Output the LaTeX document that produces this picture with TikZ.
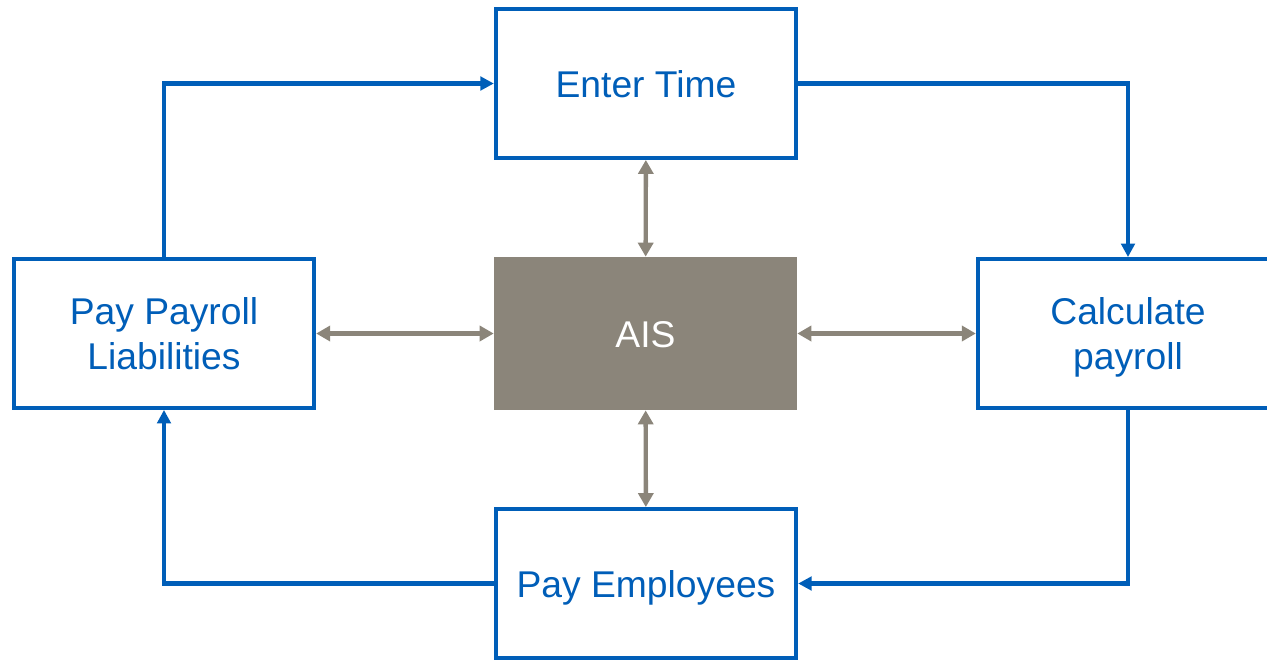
\documentclass[tikz,border=0pt]{standalone}
\usepackage{fontspec}
\setmainfont{Liberation Sans}
\usetikzlibrary{arrows.meta}
\definecolor{payblue}{RGB}{0,94,184}
\definecolor{aisgray}{RGB}{139,133,122}
\tikzset{
	stepbox/.style={draw=payblue, line width=2.5pt, fill=white, text=payblue,
		minimum width=6cm, minimum height=2.97cm, align=center,
		text height=0.54cm, text depth=0pt,
		font=\fontsize{21.2}{25.6}\selectfont},
	twolines/.style={text height=1.44cm},
	aisbox/.style={fill=aisgray, text=white, minimum width=6.06cm, minimum height=3.06cm,
		text height=0.54cm, text depth=0pt,
		font=\fontsize{21.2}{25.6}\selectfont},
	flow/.style={draw=payblue, line width=2.5pt, -{Triangle[length=0.27cm,width=0.27cm]}},
	link/.style={draw=aisgray, line width=2.5pt, {Triangle[length=0.28cm,width=0.3cm]}-{Triangle[length=0.28cm,width=0.3cm]}}
}
\begin{document}
\begin{tikzpicture}[x=0.02cm, y=-0.02cm]
	\useasboundingbox (0,0) rectangle (1267,660);
	\clip (0,0) rectangle (1267,660);
	
	% Kaesten
	\node[aisbox] (ais) at (645.5,333.5) {AIS};
	\node[stepbox] (time) at (646,83.5) {Enter Time};
	\node[stepbox, twolines] (calc) at (1128,333.5) {Calculate\\payroll};
	\node[stepbox] (pay) at (646,583.5) {Pay Employees};
	\node[stepbox, twolines] (liab) at (164,333.5) {Pay Payroll\\Liabilities};
	
	% Ablauf im Kreis
	\draw[flow] (liab.north) |- (time.west);
	\draw[flow] (time.east) -| (calc.north);
	\draw[flow] (calc.south) |- (pay.east);
	\draw[flow] (pay.west) -| (liab.south);
	
	% Verbindungen zum AIS
	\foreach \n in {time,calc,pay,liab} {
		\draw[link] (ais) -- (\n);
	}
\end{tikzpicture}
\end{document}
